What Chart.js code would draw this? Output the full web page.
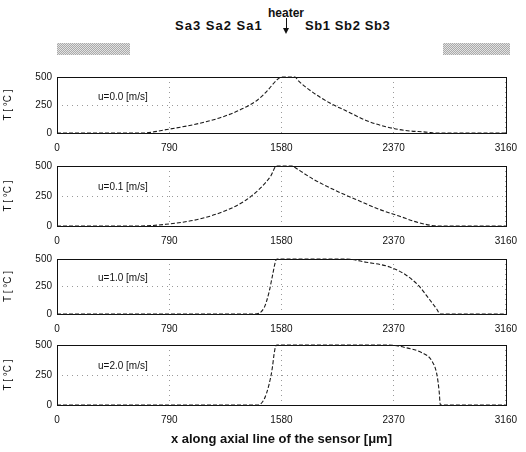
<!DOCTYPE html>
<html><head><meta charset="utf-8">
<script src="https://cdn.jsdelivr.net/npm/chart.js@4"></script>
<style>
body{margin:0;background:#fff;width:526px;height:452px;position:relative;overflow:hidden;font-family:"Liberation Sans",Arial,sans-serif;color:#111}
.abs{position:absolute;white-space:nowrap}
canvas{position:absolute;left:0}
.bar{position:absolute;height:12px;background-color:#c4c4c4;background-image:repeating-conic-gradient(#aaaaaa 0 25%,#e2e2e2 0 50%);background-size:2px 2px}
.lab{position:absolute;font-size:10px;white-space:nowrap;transform:translateY(-50%)}
</style></head><body>
<div class="abs" style="left:286px;top:13px;transform:translate(-50%,-50%);font-weight:bold;font-size:12px">heater</div>
<div class="abs" style="left:175px;top:25px;transform:translateY(-50%);font-weight:bold;font-size:13px;letter-spacing:1px">Sa3 Sa2 Sa1</div>
<div class="abs" style="left:286px;top:18px;width:1px;height:13px;background:#111"></div>
<div class="abs" style="left:283px;top:28px;width:0;height:0;border-left:3.5px solid transparent;border-right:3.5px solid transparent;border-top:6px solid #111"></div>
<div class="abs" style="left:305px;top:25px;transform:translateY(-50%);font-weight:bold;font-size:13px;letter-spacing:0.6px">Sb1 Sb2 Sb3</div>
<div class="bar" style="left:57px;top:43px;width:73px"></div>
<div class="bar" style="left:443px;top:43px;width:67px"></div>
<script>
// ---- data ----
const xTicks = [0, 790, 1580, 2370, 3160];
const yTicks = [0, 250, 500];
const speedLabels = ["u=0.0 [m/s]", "u=0.1 [m/s]", "u=1.0 [m/s]", "u=2.0 [m/s]"];

const x_u00 = [0, 600, 787, 995, 1157, 1296, 1412, 1482, 1551, 1585, 1675, 1700, 1783, 1921, 2037, 2176, 2315, 2454, 2616, 2650, 3160];
const T_u00 = [0, 0, 34, 84, 140, 211, 295, 379, 478, 500, 500, 465, 379, 267, 197, 112, 56, 22, 6, 0, 0];

const x_u01 = [0, 580, 764, 995, 1181, 1320, 1435, 1505, 1545, 1660, 1678, 1806, 1968, 2130, 2269, 2408, 2546, 2686, 3160];
const T_u01 = [0, 0, 14, 56, 125, 208, 319, 417, 500, 500, 486, 389, 292, 208, 139, 83, 28, 0, 0];

const x_u10 = [0, 1389, 1458, 1493, 1516, 1540, 1550, 2037, 2176, 2338, 2454, 2546, 2616, 2674, 2697, 3160];
const T_u10 = [0, 0, 57, 200, 343, 486, 500, 500, 471, 429, 357, 257, 143, 43, 0, 0];

const x_u20 = [0, 1412, 1458, 1493, 1516, 1528, 1540, 1550, 2338, 2454, 2569, 2639, 2674, 2690, 2699, 3160];
const T_u20 = [0, 0, 47, 172, 311, 422, 492, 500, 500, 478, 436, 367, 256, 117, 0, 0];

const yTitle = "T [ \u00B0C ]";
const xTitle = "x along axial line of the sensor [\u03BCm]";

// ---- layout ----
const series = [[x_u00, T_u00], [x_u01, T_u01], [x_u10, T_u10], [x_u20, T_u20]];
const areaTop = [74, 163, 256, 342];
const areaBottom = [133, 226, 314, 405];
const FONT = {family: '"Liberation Sans", Arial, sans-serif', size: 10};

const boxPlugin = {
  id: 'box',
  beforeDatasetsDraw(chart) {
    const a = chart.chartArea, c = chart.ctx;
    c.save();
    c.strokeStyle = '#111'; c.lineWidth = 1; c.setLineDash([]);
    c.strokeRect(Math.round(a.left) + 0.5, Math.round(a.top) + 0.5, Math.round(a.right - a.left), Math.round(a.bottom - a.top));
    c.restore();
  }
};

series.forEach((s, i) => {
  const last = i === 3;
  const padTop = 8;
  const axisH = last ? 46 : 24;
  const h = areaBottom[i] - areaTop[i] + padTop + axisH;
  const cv = document.createElement('canvas');
  cv.width = 526; cv.height = h;
  cv.style.top = (areaTop[i] - padTop) + 'px';
  cv.style.width = '526px'; cv.style.height = h + 'px';
  document.body.appendChild(cv);

  const pts = s[0].map((x, k) => ({x: x, y: s[1][k]}));
  new Chart(cv, {
    type: 'line',
    data: {datasets: [{
      data: pts, borderColor: '#1a1a1a', borderWidth: 1.1, borderDash: [4, 2],
      pointRadius: 0, fill: false, cubicInterpolationMode: 'monotone', clip: 2
    }]},
    options: {
      responsive: false, animation: false, devicePixelRatio: 1,
      layout: {padding: {left: 0, right: 16, top: padTop, bottom: 0}},
      plugins: {legend: {display: false}, tooltip: {enabled: false}},
      scales: {
        x: {
          type: 'linear', min: 0, max: 3160,
          afterBuildTicks: sc => { sc.ticks = xTicks.map(v => ({value: v})); },
          afterFit: sc => { sc.height = axisH; },
          ticks: {color: '#111', font: FONT, padding: 9, maxRotation: 0, autoSkip: false,
                  callback: v => String(v)},
          grid: {color: '#9a9a9a', drawTicks: false, lineWidth: 1},
          border: {display: false, dash: [1, 4]},
          title: {display: last, text: xTitle, color: '#111',
                  font: {family: FONT.family, size: 13, weight: 'bold'}, padding: {top: 0, bottom: 4}}
        },
        y: {
          min: 0, max: 500,
          afterBuildTicks: sc => { sc.ticks = yTicks.map(v => ({value: v})); },
          afterFit: sc => { sc.width = 57; },
          ticks: {color: '#111', font: FONT, padding: 5, callback: v => String(v)},
          grid: {color: '#9a9a9a', drawTicks: false, lineWidth: 1},
          border: {display: false, dash: [1, 4]},
          title: {display: true, text: yTitle, color: '#111', font: {family: FONT.family, size: 10}, padding: {top: 2, bottom: 0}}
        }
      }
    },
    plugins: [boxPlugin]
  });

  const lab = document.createElement('div');
  lab.className = 'lab';
  lab.textContent = speedLabels[i];
  lab.style.left = '98px';
  lab.style.top = (areaTop[i] + 0.37 * (areaBottom[i] - areaTop[i])) + 'px';
  document.body.appendChild(lab);
});
</script>
</body></html>
